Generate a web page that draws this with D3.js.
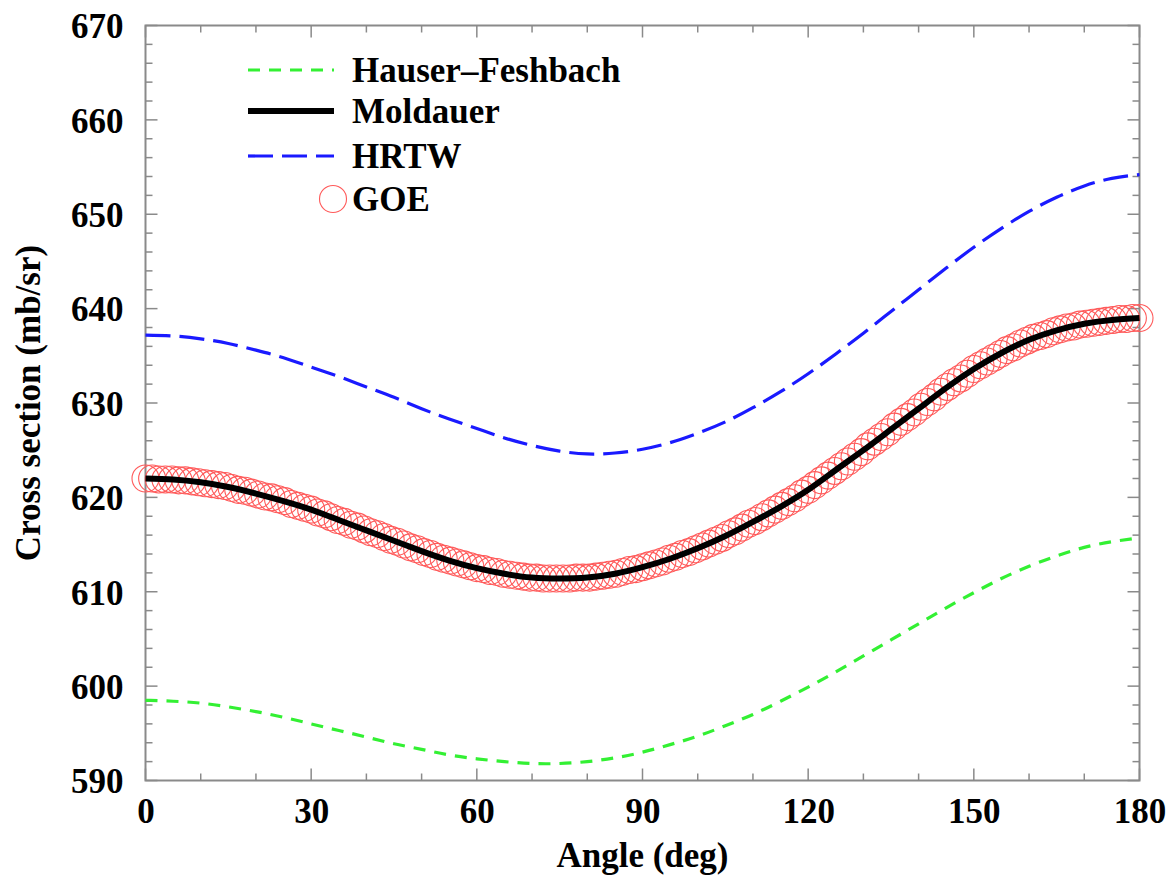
<!DOCTYPE html>
<html>
<head>
<meta charset="utf-8">
<script src="https://cdn.jsdelivr.net/npm/d3@7"></script>
<style>
  html, body { margin: 0; padding: 0; background: #fff; }
  svg { display: block; }
  text { font-family: "Liberation Serif", "Times New Roman", serif; font-weight: bold; fill: #000; }
</style>
</head>
<body>
<svg id="chart" width="1170" height="879"></svg>
<script>
// Differential elastic cross section vs. scattering angle (5-degree grid)
const angles = d3.range(0, 181, 5);

const hauserFeshbach = [
  598.5, 598.4, 598.2, 597.8, 597.3, 596.7, 596.0, 595.3, 594.6, 593.9,
  593.3, 592.7, 592.3, 592.0, 591.8, 591.8, 592.0, 592.4, 593.0, 593.8,
  594.7, 595.8, 597.0, 598.4, 599.9, 601.5, 603.2, 604.9, 606.6, 608.3,
  609.9, 611.4, 612.7, 613.8, 614.7, 615.3, 615.7
];

const moldauer = [
  622.0, 621.9, 621.6, 621.1, 620.4, 619.6, 618.7, 617.6, 616.5, 615.4,
  614.3, 613.3, 612.5, 611.9, 611.5, 611.4, 611.5, 611.9, 612.6, 613.5,
  614.6, 615.9, 617.4, 619.0, 620.8, 622.9, 625.0, 627.2, 629.4, 631.6,
  633.6, 635.3, 636.7, 637.7, 638.4, 638.8, 639.0
];

const hrtw = [
  637.2, 637.1, 636.8, 636.3, 635.6, 634.8, 633.8, 632.8, 631.7, 630.6,
  629.4, 628.3, 627.3, 626.3, 625.5, 624.9, 624.6, 624.7, 625.1, 625.8,
  626.8, 628.0, 629.5, 631.2, 633.1, 635.2, 637.4, 639.7, 642.0, 644.3,
  646.5, 648.5, 650.3, 651.8, 653.0, 653.8, 654.2
];

// GOE results, evenly spaced from 0 to 180 degrees
const goe = [
  622.0, 622.0, 621.9, 621.9, 621.9, 621.8, 621.8, 621.7, 621.6, 621.5,
  621.4, 621.3, 621.2, 621.0, 620.8, 620.7, 620.5, 620.3, 620.1, 620.0,
  619.8, 619.6, 619.3, 619.1, 618.9, 618.7, 618.4, 618.2, 617.9, 617.6,
  617.4, 617.1, 616.9, 616.6, 616.3, 616.1, 615.8, 615.5, 615.3, 615.0,
  614.7, 614.5, 614.2, 614.0, 613.7, 613.5, 613.3, 613.1, 612.9, 612.7,
  612.5, 612.4, 612.2, 612.1, 611.9, 611.8, 611.7, 611.6, 611.5, 611.5,
  611.4, 611.4, 611.4, 611.4, 611.4, 611.5, 611.5, 611.5, 611.6, 611.7,
  611.8, 611.9, 612.1, 612.3, 612.4, 612.6, 612.8, 613.0, 613.2, 613.5,
  613.7, 614.0, 614.2, 614.5, 614.8, 615.1, 615.4, 615.7, 616.1, 616.4,
  616.8, 617.2, 617.5, 617.9, 618.3, 618.7, 619.1, 619.5, 619.9, 620.4,
  620.8, 621.3, 621.8, 622.3, 622.8, 623.3, 623.8, 624.3, 624.8, 625.4,
  625.9, 626.4, 626.9, 627.5, 628.0, 628.5, 629.0, 629.6, 630.1, 630.6,
  631.2, 631.7, 632.2, 632.6, 633.1, 633.6, 634.0, 634.4, 634.8, 635.2,
  635.6, 635.9, 636.3, 636.6, 636.9, 637.1, 637.3, 637.6, 637.8, 638.0,
  638.1, 638.3, 638.4, 638.5, 638.6, 638.7, 638.8, 638.9, 638.9, 639.0,
  639.0
];
const goeAngles = goe.map((_, i) => i * 180 / (goe.length - 1));

const xTicks = [0, 30, 60, 90, 120, 150, 180];
const yTicks = [590, 600, 610, 620, 630, 640, 650, 660, 670];

const legendItems = [
  { label: "Hauser\u2013Feshbach", kind: "hf" },
  { label: "Moldauer", kind: "mold" },
  { label: "HRTW", kind: "hrtw" },
  { label: "GOE", kind: "goe" }
];

const styles = {
  hf:   { stroke: "#33f033", width: 3.2, dash: "12,9" },
  mold: { stroke: "#000000", width: 6, dash: null },
  hrtw: { stroke: "#1a1aff", width: 3.2, dash: "25,9" },
  goe:  { stroke: "#ff5a5a", r: 13.5 }
};

const fontSize = "35px";

const svg = d3.select("#chart");
const plotLeft = 145.5, plotRight = 1139.5, plotTop = 25.5, plotBottom = 780.5;

const x = d3.scaleLinear().domain([0, 180]).range([plotLeft, plotRight]);
const y = d3.scaleLinear().domain([590, 670]).range([plotBottom, plotTop]);

const frameColor = "#8a8a8a";

// plot frame
svg.append("rect")
  .attr("x", plotLeft).attr("y", plotTop)
  .attr("width", plotRight - plotLeft).attr("height", plotBottom - plotTop)
  .attr("fill", "none").attr("stroke", frameColor).attr("stroke-width", 2);

// inward ticks on all four sides
const xMinor = d3.range(0, 181, 10);
const yMinor = d3.range(590, 671, 2);
const tickG = svg.append("g").attr("stroke", frameColor).attr("stroke-width", 1.5);
xMinor.forEach(v => {
  const len = v % 30 === 0 ? 12 : 7;
  tickG.append("line").attr("x1", x(v)).attr("x2", x(v)).attr("y1", plotBottom).attr("y2", plotBottom - len);
  tickG.append("line").attr("x1", x(v)).attr("x2", x(v)).attr("y1", plotTop).attr("y2", plotTop + len);
});
yMinor.forEach(v => {
  const len = v % 10 === 0 ? 12 : 7;
  tickG.append("line").attr("y1", y(v)).attr("y2", y(v)).attr("x1", plotLeft).attr("x2", plotLeft + len);
  tickG.append("line").attr("y1", y(v)).attr("y2", y(v)).attr("x1", plotRight).attr("x2", plotRight - len);
});

// tick labels via d3 axes (tick lines hidden; only text used)
const xAxis = svg.append("g")
  .attr("transform", `translate(0,${plotBottom})`)
  .call(d3.axisBottom(x).tickValues(xTicks).tickSize(0).tickPadding(0));
xAxis.select(".domain").remove();
xAxis.selectAll("text")
  .attr("y", 42).attr("dy", 0)
  .style("font-family", "'Liberation Serif', serif")
  .style("font-weight", "bold").style("font-size", fontSize).attr("fill", "#000");

const yAxis = svg.append("g")
  .attr("transform", `translate(${plotLeft},0)`)
  .call(d3.axisLeft(y).tickValues(yTicks).tickSize(0).tickPadding(0));
yAxis.select(".domain").remove();
yAxis.selectAll("text")
  .attr("x", -22).attr("dy", "0.35em")
  .style("font-family", "'Liberation Serif', serif")
  .style("font-weight", "bold").style("font-size", fontSize).attr("fill", "#000");

svg.append("text")
  .attr("x", (plotLeft + plotRight) / 2).attr("y", 867)
  .attr("text-anchor", "middle").style("font-size", fontSize)
  .text("Angle (deg)");

svg.append("text")
  .attr("transform", `translate(40,${(plotTop + plotBottom) / 2}) rotate(-90)`)
  .attr("text-anchor", "middle").style("font-size", fontSize)
  .text("Cross section (mb/sr)");

// curves
const plot = svg.append("g");
const line = d3.line().curve(d3.curveNatural);

function drawCurve(vals, st) {
  plot.append("path")
    .attr("d", line(vals.map((v, i) => [x(angles[i]), y(v)])))
    .attr("fill", "none")
    .attr("stroke", st.stroke)
    .attr("stroke-width", st.width)
    .attr("stroke-dasharray", st.dash);
}

drawCurve(hauserFeshbach, styles.hf);
drawCurve(hrtw, styles.hrtw);

plot.append("g").selectAll("circle")
  .data(goe)
  .join("circle")
  .attr("cx", (d, i) => x(goeAngles[i]))
  .attr("cy", d => y(d))
  .attr("r", styles.goe.r)
  .attr("fill", "none")
  .attr("stroke", styles.goe.stroke)
  .attr("stroke-width", 1.1);

drawCurve(moldauer, styles.mold);

// legend
const legRows = [70, 111, 156, 199];
const lg = svg.append("g");
legendItems.forEach((item, i) => {
  const yy = legRows[i];
  const st = styles[item.kind];
  if (item.kind === "goe") {
    lg.append("circle").attr("cx", 333).attr("cy", yy).attr("r", st.r)
      .attr("fill", "none").attr("stroke", st.stroke).attr("stroke-width", 1.1);
  } else {
    lg.append("line").attr("x1", 248).attr("x2", 334).attr("y1", yy).attr("y2", yy)
      .attr("stroke", st.stroke).attr("stroke-width", st.width)
      .attr("stroke-dasharray", st.dash);
  }
  lg.append("text").attr("x", 352).attr("y", yy).attr("dy", "0.33em")
    .style("font-size", fontSize).text(item.label);
});
</script>
</body>
</html>
